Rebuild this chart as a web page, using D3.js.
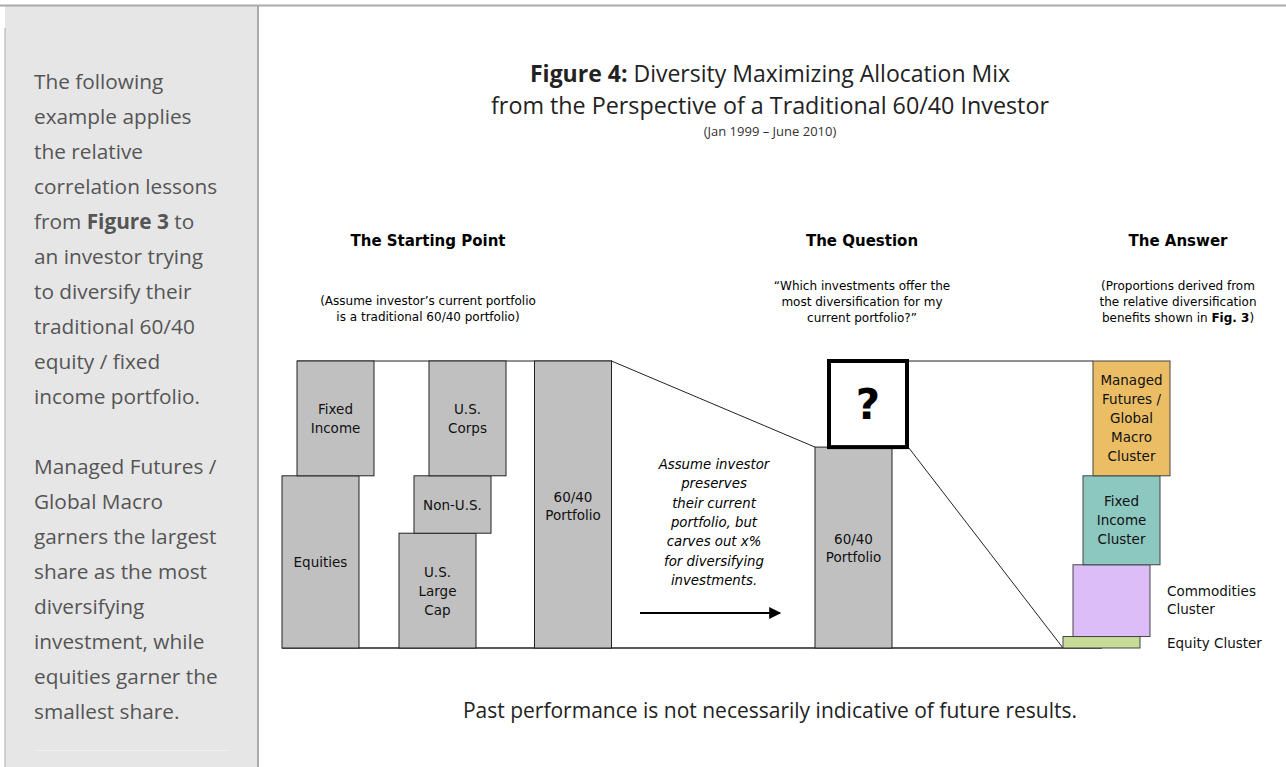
<!DOCTYPE html>
<html>
<head>
<meta charset="utf-8">
<script src="https://cdn.jsdelivr.net/npm/d3@7"></script>
<style>
  body { margin: 0; background: #fff; }
  svg { display: block; }
</style>
</head>
<body>
<div id="chart"></div>
<script>
// starting point: asset class split of the 60/40 portfolio (% of total)
const assetClasses = ['Equities', 'Fixed Income'];
const assetShares = [60, 40];
// sub-components, stacked bottom to top
const subClasses = ['U.S. Large Cap', 'Non-U.S.', 'U.S. Corps'];
const subShares = [40, 20, 40];
// the question: portfolio kept vs carved out
const questionParts = ['60/40 Portfolio', '?'];
const questionShares = [70, 30];
// the answer: cluster proportions, bottom to top
const clusters = ['Equity Cluster', 'Commodities Cluster', 'Fixed Income Cluster', 'Managed Futures / Global Macro Cluster'];
const clusterShares = [4, 25, 31, 40];
const clusterColors = ['#c8dc98', '#ddbdf8', '#8cc8c0', '#ebbe66'];

const sidebarLines = [
  ['The following'], ['example applies'], ['the relative'], ['correlation lessons'],
  ['from ', 'Figure 3', ' to'], ['an investor trying'], ['to diversify their'],
  ['traditional 60/40'], ['equity / fixed'], ['income portfolio.'], [''],
  ['Managed Futures /'], ['Global Macro'], ['garners the largest'], ['share as the most'],
  ['diversifying'], ['investment, while'], ['equities garner the'], ['smallest share.']
];

const W = 1286, H = 767;
const svg = d3.select('#chart').append('svg').attr('width', W).attr('height', H);

const diag = "'DejaVu Sans', Verdana, sans-serif";
const body = "'Open Sans', 'Noto Sans', sans-serif";

// sidebar
svg.append('rect').attr('x', 5).attr('y', 5).attr('width', 253).attr('height', H).attr('fill', '#e6e6e6');
svg.append('line').attr('x1', 0).attr('x2', W).attr('y1', 5.5).attr('y2', 5.5).attr('stroke', '#aaa').attr('stroke-width', 2);
svg.append('line').attr('x1', 5).attr('x2', 5).attr('y1', 28).attr('y2', H).attr('stroke', '#aaa').attr('stroke-width', 1);
svg.append('line').attr('x1', 258).attr('x2', 258).attr('y1', 5).attr('y2', H).attr('stroke', '#aaa').attr('stroke-width', 2);
svg.append('line').attr('x1', 35).attr('x2', 228).attr('y1', 750.5).attr('y2', 750.5).attr('stroke', '#f0f0f0');

sidebarLines.forEach((parts, i) => {
  const t = svg.append('text').attr('x', 34).attr('y', 89 + i * 35)
    .attr('font-family', body).attr('font-size', 20.8).attr('fill', '#555');
  parts.forEach(p => t.append('tspan').attr('font-weight', p === 'Figure 3' ? 'bold' : null).text(p));
});

// title
const cx = 770;
const t1 = svg.append('text').attr('x', cx).attr('y', 82).attr('text-anchor', 'middle')
  .attr('font-family', body).attr('font-size', 23).attr('fill', '#222');
t1.append('tspan').attr('font-weight', 'bold').text('Figure 4:');
t1.append('tspan').text('  Diversity Maximizing Allocation Mix');
svg.append('text').attr('x', cx).attr('y', 114).attr('text-anchor', 'middle')
  .attr('font-family', body).attr('font-size', 23.3).attr('fill', '#222')
  .text('from the Perspective of a Traditional 60/40 Investor');
svg.append('text').attr('x', cx).attr('y', 136).attr('text-anchor', 'middle')
  .attr('font-family', body).attr('font-size', 13).attr('fill', '#333')
  .text('(Jan 1999 \u2013 June 2010)');

// column headers
const headers = [
  { x: 428, title: 'The Starting Point', y0: 305, lines: [['(Assume investor\u2019s current portfolio'], ['is a traditional 60/40 portfolio)']] },
  { x: 862, title: 'The Question', y0: 290, lines: [['\u201CWhich investments offer the'], ['most diversification for my'], ['current portfolio?\u201D']] },
  { x: 1178, title: 'The Answer', y0: 290, lines: [['(Proportions derived from'], ['the relative diversification'], ['benefits shown in ', 'Fig. 3', ')']] }
];
headers.forEach(h => {
  svg.append('text').attr('x', h.x).attr('y', 246).attr('text-anchor', 'middle')
    .attr('font-family', diag).attr('font-size', 15).attr('font-weight', 'bold').attr('fill', '#000')
    .text(h.title);
  h.lines.forEach((parts, i) => {
    const t = svg.append('text').attr('x', h.x).attr('y', h.y0 + i * 16).attr('text-anchor', 'middle')
      .attr('font-family', diag).attr('font-size', 12).attr('fill', '#000');
    parts.forEach(p => t.append('tspan').attr('font-weight', p === 'Fig. 3' ? 'bold' : null).text(p));
  });
});

// vertical scale shared by every stack: 0..100% of the portfolio
const y = d3.scaleLinear().domain([0, 100]).range([648, 361]);
const bw = 77;

function stack(shares) {
  let acc = 0;
  return shares.map(s => { const o = [acc, acc + s]; acc += s; return o; });
}

function label(x, yc, text, size, lh) {
  const lines = text.split('\n');
  const t = svg.append('text').attr('text-anchor', 'middle')
    .attr('font-family', diag).attr('font-size', size || 13.5).attr('fill', '#111');
  lines.forEach((l, i) => {
    t.append('tspan').attr('x', x)
      .attr('y', yc + (i - (lines.length - 1) / 2) * (lh || 19) + 5).text(l);
  });
}

const boxStroke = '#222';

// outline lines of the diagram
const g = svg.append('g');
g.append('line').attr('x1', 297).attr('x2', 612).attr('y1', y(100)).attr('y2', y(100)).attr('stroke', boxStroke);
g.append('line').attr('x1', 282).attr('x2', 1102).attr('y1', y(0)).attr('y2', y(0)).attr('stroke', boxStroke).attr('stroke-width', 1.5);

// asset classes
const assetX = [282, 297];
const assetLabels = ['Equities', 'Fixed\nIncome'];
stack(assetShares).forEach((s, i) => {
  g.append('rect').attr('x', assetX[i]).attr('y', y(s[1])).attr('width', bw).attr('height', y(s[0]) - y(s[1]))
    .attr('fill', '#c0c0c0').attr('stroke', boxStroke);
  label(assetX[i] + bw / 2, (y(s[0]) + y(s[1])) / 2, assetLabels[i]);
});

// sub classes
const subX = [399, 414, 429];
const subLabels = ['U.S.\nLarge\nCap', 'Non-U.S.', 'U.S.\nCorps'];
stack(subShares).forEach((s, i) => {
  g.append('rect').attr('x', subX[i]).attr('y', y(s[1])).attr('width', bw).attr('height', y(s[0]) - y(s[1]))
    .attr('fill', '#c0c0c0').attr('stroke', boxStroke);
  label(subX[i] + bw / 2, (y(s[0]) + y(s[1])) / 2, subLabels[i]);
});

// whole 60/40 portfolio
const pfX = 534.5;
g.append('rect').attr('x', pfX).attr('y', y(100)).attr('width', bw).attr('height', y(0) - y(100))
  .attr('fill', '#c0c0c0').attr('stroke', boxStroke);
label(pfX + bw / 2, 506, '60/40\nPortfolio', 13.5, 18);

// the question
const qX = 815;
const qs = stack(questionShares);
g.append('line').attr('x1', pfX + bw).attr('y1', y(100)).attr('x2', qX).attr('y2', y(qs[0][1])).attr('stroke', boxStroke);
g.append('rect').attr('x', qX).attr('y', y(qs[0][1])).attr('width', bw).attr('height', y(qs[0][0]) - y(qs[0][1]))
  .attr('fill', '#c0c0c0').attr('stroke', boxStroke);
label(qX + bw / 2, 548, '60/40\nPortfolio', 13.5, 18);
g.append('rect').attr('x', qX + 14).attr('y', y(qs[1][1])).attr('width', 78).attr('height', y(qs[1][0]) - y(qs[1][1]))
  .attr('fill', '#fff').attr('stroke', '#000').attr('stroke-width', 4);
svg.append('text').attr('x', qX + 14 + 39).attr('y', (y(qs[1][0]) + y(qs[1][1])) / 2 + 15)
  .attr('text-anchor', 'middle').attr('font-family', diag).attr('font-size', 42).attr('font-weight', 'bold')
  .text('?');

// arrow and note
const defs = svg.append('defs');
defs.append('marker').attr('id', 'ah').attr('viewBox', '0 0 10 10').attr('refX', 9).attr('refY', 5)
  .attr('markerWidth', 7).attr('markerHeight', 6).attr('orient', 'auto')
  .append('path').attr('d', 'M0,0 L10,5 L0,10 Z').attr('fill', '#000');
g.append('line').attr('x1', 640).attr('x2', 780).attr('y1', 613).attr('y2', 613)
  .attr('stroke', '#000').attr('stroke-width', 2).attr('marker-end', 'url(#ah)');
const note = ['Assume investor', 'preserves', 'their current', 'portfolio, but', 'carves out x%', 'for diversifying', 'investments.'];
note.forEach((l, i) => {
  svg.append('text').attr('x', 714).attr('y', 469 + i * 19.3).attr('text-anchor', 'middle')
    .attr('font-family', diag).attr('font-size', 13.3).attr('font-style', 'italic').attr('fill', '#000').text(l);
});

// the answer
const aX = [1063, 1073, 1083, 1093];
const aS = stack(clusterShares);
g.append('line').attr('x1', qX + 14 + 80).attr('y1', y(100)).attr('x2', aX[3]).attr('y2', y(100)).attr('stroke', boxStroke);
g.append('line').attr('x1', qX + 14 + 80).attr('y1', y(qs[1][0]) + 1).attr('x2', aX[0]).attr('y2', y(0)).attr('stroke', boxStroke);
aS.forEach((s, i) => {
  g.append('rect').attr('x', aX[i]).attr('y', y(s[1])).attr('width', bw).attr('height', y(s[0]) - y(s[1]))
    .attr('fill', clusterColors[i]).attr('stroke', '#444');
});
label(aX[3] + bw / 2, (y(aS[3][0]) + y(aS[3][1])) / 2, 'Managed\nFutures /\nGlobal\nMacro\nCluster', 13.5, 19);
label(aX[2] + bw / 2, (y(aS[2][0]) + y(aS[2][1])) / 2, 'Fixed\nIncome\nCluster', 13.5, 19);
[['Commodities', 596], ['Cluster', 614], ['Equity Cluster', 648]].forEach(d => {
  svg.append('text').attr('x', 1167).attr('y', d[1]).attr('font-family', diag).attr('font-size', 13.5)
    .attr('fill', '#111').text(d[0]);
});

// footer
svg.append('text').attr('x', cx).attr('y', 718).attr('text-anchor', 'middle')
  .attr('font-family', body).attr('font-size', 21).attr('fill', '#222')
  .text('Past performance is not necessarily indicative of future results.');
</script>
</body>
</html>
